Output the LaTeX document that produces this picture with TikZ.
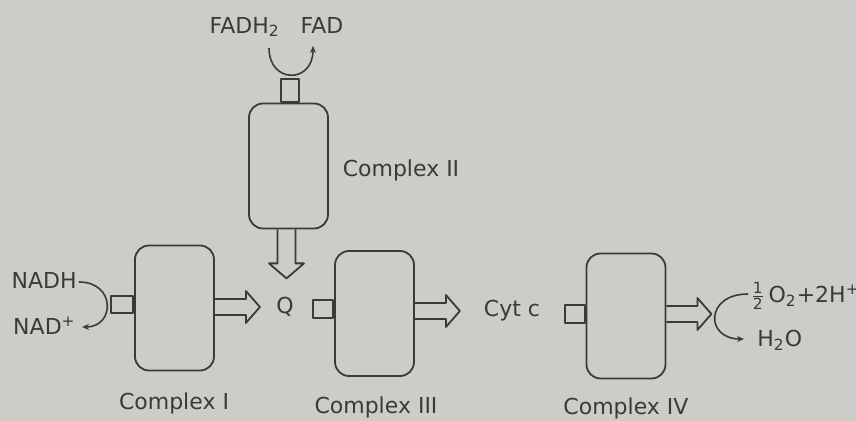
\documentclass[tikz,border=0pt]{standalone}
\usepackage{fontspec}
\usepackage{amsmath}
\setmainfont{DejaVu Sans}
\usetikzlibrary{calc,arrows.meta}
\definecolor{paper}{RGB}{204,204,201}
\definecolor{ink}{RGB}{58,58,58}
\tikzset{
  ln/.style={draw=ink, line width=0.9pt, line join=round},
  cplx/.style={ln, rectangle, rounded corners=7pt, minimum width=39.5pt, minimum height=62.5pt, inner sep=0pt},
  port/.style={ln, rectangle, inner sep=0pt},
  lbl/.style={text=ink, inner sep=0pt, font=\fontsize{11}{13}\selectfont},
  curvearrow/.style={draw=ink, line width=0.8pt, -{Stealth[length=3.5pt,width=3pt]}},
}
\newcommand{\harrow}[1]{\draw[ln] ($(#1)+(0,-8)$) -- ++(31,0) -- ++(0,-8) -- ++(14,16) -- ++(-14,16) -- ++(0,-8) -- ++(-31,0);}
\begin{document}
\begin{tikzpicture}[x=0.5pt,y=-0.5pt]
\fill[paper] (0,0) rectangle (856,421);
\useasboundingbox (0,0) rectangle (856,421);

% complexes
\node[cplx] (c1) at (174.5,308) {};
\node[cplx] (c2) at (288.5,166) {};
\node[cplx] (c3) at (374.5,313.5) {};
\node[cplx] (c4) at (626,316) {};

% ports
\node[port, minimum width=11pt, minimum height=8.5pt, anchor=east] (s1) at ($(c1.west)+(0,-3.5)$) {};
\node[port, minimum width=9pt, minimum height=11.5pt, anchor=south] (s2) at ($(c2.north)+(1.5,0)$) {};
\node[port, minimum width=10pt, minimum height=9pt, anchor=east] (s3) at ($(c3.west)+(0,-4.5)$) {};
\node[port, minimum width=10pt, minimum height=9pt, anchor=east] (s4) at ($(c4.west)+(0,-2)$) {};

% labels
\node[lbl] (l1) at (174,403) {Complex I};
\node[lbl] (l2) at (401,170) {Complex II};
\node[lbl] (l3) at (376,407) {Complex III};
\node[lbl] (l4) at (626,408) {Complex IV};

\node[lbl] (q) at (285,307) {Q};
\node[lbl] (cyt) at (512,311) {Cyt c};

\node[lbl, anchor=east] (nadh) at (77,280) {NADH};
\node[lbl, anchor=east] (nad) at (76,326) {NAD\textsuperscript{+}};

\node[lbl, anchor=east] (fadh) at (280,27) {FADH\textsubscript{2}};
\node[lbl] (fad) at (322,25) {FAD};

\node[lbl, anchor=west] (o2) at (750,296) {$\frac{\text{1}}{\text{2}}$\,O\textsubscript{2}+2H\textsuperscript{+}};
\node[lbl, anchor=west] (h2o) at (757,340) {H\textsubscript{2}O};

% block arrows
\coordinate (a1) at ($(c1.east)+(0,-1)$);
\coordinate (a3) at ($(c3.east)+(0,-2.5)$);
\coordinate (a4) at ($(c4.east)+(0,-2)$);
\harrow{a1}
\harrow{a3}
\harrow{a4}
\coordinate (a2) at ($(c2.south)+(-2,0)$);
\draw[ln] ($(a2)+(-9,0)$) -- ++(0,34) -- ++(-8.5,0) -- ++(17.5,15) -- ++(17.5,-15) -- ++(-8.5,0) -- ++(0,-34);

% curved reaction arrows
\draw[curvearrow] ($(nadh.east)+(2,2)$) .. controls +(37,0) and +(33,0) .. ($(nad.east)+(6,1)$);
\draw[curvearrow] (269,48) .. controls (269,84) and (313,84) .. (313,46);
\draw[curvearrow] ($(o2.west)+(-2,-2)$) .. controls +(-43,0) and +(-39,0) .. ($(h2o.west)+(-13,-1)$);
\end{tikzpicture}
\end{document}
